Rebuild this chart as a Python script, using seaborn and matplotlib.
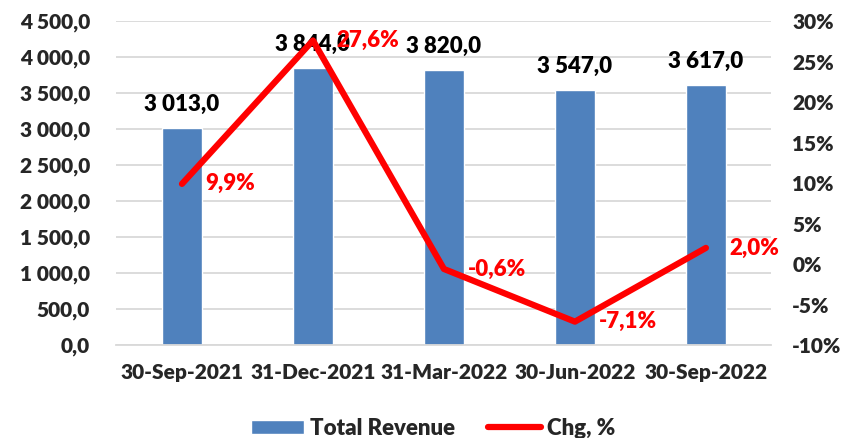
import matplotlib
matplotlib.use('Agg')
import matplotlib.pyplot as plt
import matplotlib.ticker as mticker
import numpy as np
import pandas as pd
import seaborn as sns

# Datos
periods = ['30-Sep-2021', '31-Dec-2021', '31-Mar-2022', '30-Jun-2022', '30-Sep-2022']
revenue = [3013.0, 3844.0, 3820.0, 3547.0, 3617.0]
chg = [9.9, 27.6, -0.6, -7.1, 2.0]

df = pd.DataFrame({'period': periods, 'revenue': revenue, 'chg': chg})

sns.set_theme(style='white')
plt.rcParams['font.family'] = ['Lato', 'DejaVu Sans']
W = 800

bar_color = '#4F81BD'
line_color = '#FF0000'


def fmt_num(v, pos=None):
    return f'{v:,.1f}'.replace(',', ' ').replace('.', ',')


fig = plt.figure(figsize=(8.44, 4.38), dpi=100)
ax = fig.add_axes([0.138, 0.212, 0.776, 0.74])

sns.barplot(data=df, x='period', y='revenue', color=bar_color, width=0.31,
            saturation=1, ax=ax, label='Total Revenue', legend=False)
ax.set_ylim(0, 4500)
ax.yaxis.set_major_locator(mticker.MultipleLocator(500))
ax.yaxis.set_major_formatter(mticker.FuncFormatter(fmt_num))
ax.grid(axis='y', color='#D9D9D9', linewidth=1.3)
ax.set_axisbelow(True)
ax.set_xlabel('')
ax.set_ylabel('')
for s in ['top', 'right', 'left']:
    ax.spines[s].set_visible(False)
ax.spines['bottom'].set_color('#D9D9D9')
ax.spines['bottom'].set_linewidth(1.3)
ax.tick_params(axis='x', labelsize=15, length=0, pad=13)
ax.tick_params(axis='y', labelsize=15, length=0, pad=19)
for lab in ax.get_xticklabels() + ax.get_yticklabels():
    lab.set_fontweight(W)

for i, v in enumerate(revenue):
    ax.text(i, v + 236, fmt_num(v), ha='center', va='baseline',
            fontsize=16, fontweight=W, color='black')

ax2 = ax.twinx()
sns.lineplot(x=np.arange(len(periods)), y=chg, color=line_color, linewidth=4.5,
             ax=ax2, label='Chg, %', legend=False)
ax2.set_ylim(-10, 30)
ax.set_xlim(-0.5, len(periods) - 0.5)
ax2.yaxis.set_major_locator(mticker.MultipleLocator(5))
ax2.yaxis.set_major_formatter(mticker.FuncFormatter(lambda v, p: f'{v:.0f}%'))
for s in ['top', 'right', 'left', 'bottom']:
    ax2.spines[s].set_visible(False)
ax2.tick_params(axis='y', labelsize=15, length=0, pad=15)
for lab in ax2.get_yticklabels():
    lab.set_fontweight(W)
ax2.grid(False)

for i, v in enumerate(chg):
    ax2.text(i + 0.18, v, f'{v:.1f}%'.replace('.', ','), ha='left', va='center',
             fontsize=16, fontweight=W, color=line_color)

h1, l1 = ax.get_legend_handles_labels()
h2, l2 = ax2.get_legend_handles_labels()
fig.legend(h1 + h2, l1 + l2, loc='center', ncol=2, frameon=False,
           bbox_to_anchor=(0.513, 0.022), prop={'size': 16, 'weight': W},
           handlelength=2.4, handletextpad=0.25, columnspacing=1.5,
           handleheight=0.6)

fig.savefig('out.png', dpi=100)
